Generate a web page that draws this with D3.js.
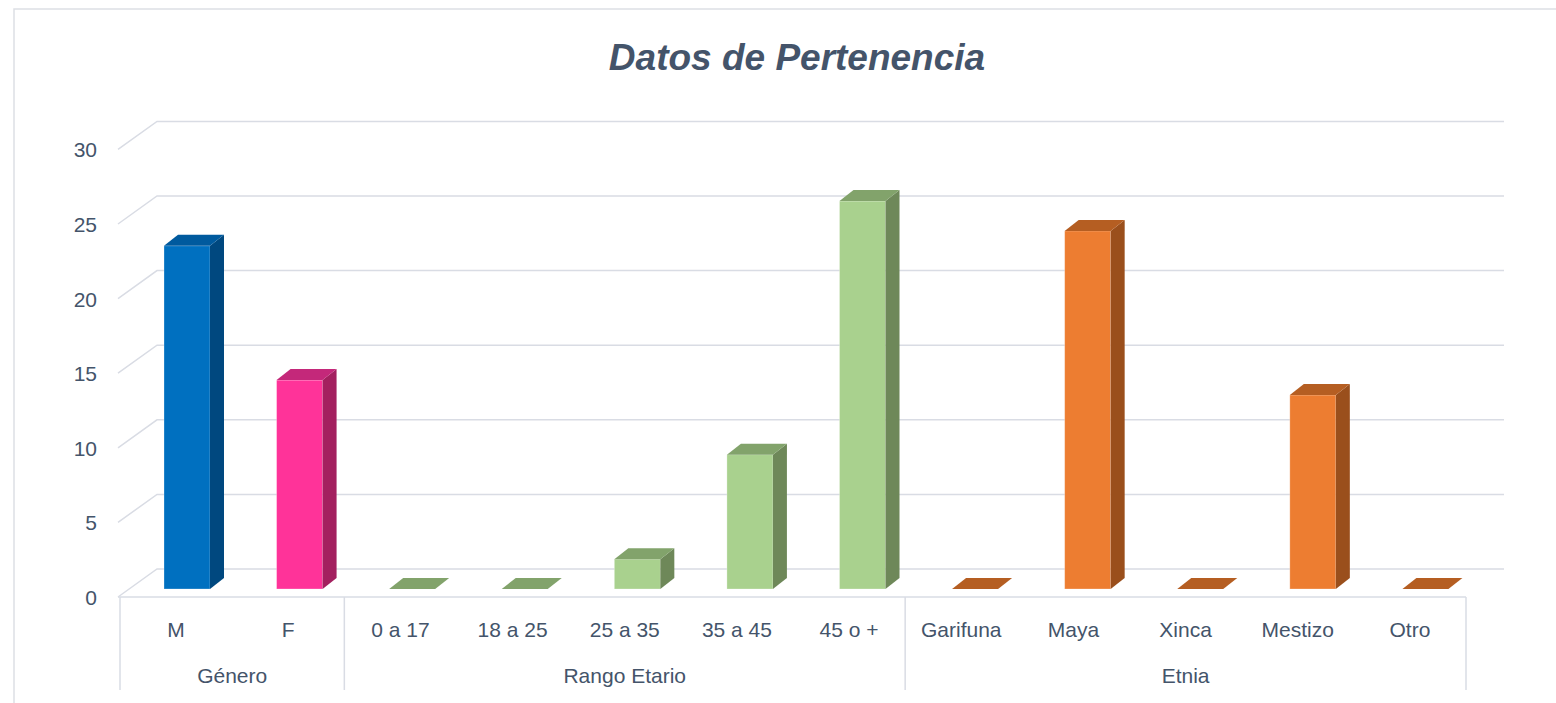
<!DOCTYPE html>
<html>
<head>
<meta charset="utf-8">
<script src="https://cdn.jsdelivr.net/npm/d3@7"></script>
<style>
  html, body { margin: 0; padding: 0; background: #ffffff; }
  svg { display: block; }
</style>
</head>
<body>
<svg id="chart" width="1556" height="703"></svg>
<script>
// ---- data ----
const title = "Datos de Pertenencia";
const generoCats = ["M", "F"];
const generoValues = [23, 14];
const edadCats = ["0 a 17", "18 a 25", "25 a 35", "35 a 45", "45 o +"];
const edadValues = [0, 0, 2, 9, 26];
const etniaCats = ["Garifuna", "Maya", "Xinca", "Mestizo", "Otro"];
const etniaValues = [0, 24, 0, 13, 0];
const groupNames = ["Género", "Rango Etario", "Etnia"];
const yTicks = [0, 5, 10, 15, 20, 25, 30];

// colours per group: [front, top, side]
const groupColors = [
  [["#0070C0", "#005A9E", "#00487F"], ["#FF3399", "#C4287A", "#A3205F"]],
  [["#A9D18E", "#82A36B", "#6E8859"]],
  [["#ED7D31", "#B55E22", "#9A4F1C"]]
];

// ---- build rows ----
const groups = [
  { name: groupNames[0], cats: generoCats, vals: generoValues },
  { name: groupNames[1], cats: edadCats, vals: edadValues },
  { name: groupNames[2], cats: etniaCats, vals: etniaValues }
];
const rows = [];
groups.forEach((g, gi) => {
  g.cats.forEach((c, i) => {
    const pal = groupColors[gi][Math.min(i, groupColors[gi].length - 1)];
    rows.push({ cat: c, value: g.vals[i], group: gi, front: pal[0], top: pal[1], side: pal[2] });
  });
});
const allCats = rows.map(r => r.cat);

// ---- layout ----
const svg = d3.select("#chart");
const textColor = "#44546A";
const gridColor = "#D9DCE4";
const font = "'Liberation Sans', Arial, sans-serif";

const floorX0 = 120, floorX1 = 1466;
const wallDX = 38, wallDY = -28;   // depth of floor (oblique projection)
const barFrontDY = -8;             // bars stand a bit behind the front edge
const barDX = 14, barDY = -11;     // depth of each bar
const barW = 46;

const x = d3.scaleBand().domain(allCats).range([floorX0, floorX1]).padding(0);
const xBar = d3.scaleBand().domain(allCats).range([124, 1475]).padding(0);
const y = d3.scaleLinear().domain([0, 30]).range([597, 149.4]);

// chart frame
svg.append("path")
  .attr("d", `M14,703 L14,9 L1556,9`)
  .attr("fill", "none").attr("stroke", "#DDE0E5").attr("stroke-width", 1.5);

// title
svg.append("text")
  .attr("x", 797).attr("y", 70)
  .attr("text-anchor", "middle")
  .attr("font-family", font).attr("font-size", 37)
  .attr("font-weight", "bold").attr("font-style", "italic")
  .attr("fill", textColor)
  .text(title);

// gridlines: side wall diagonal + back wall
const grid = svg.append("g").attr("fill", "none").attr("stroke", gridColor).attr("stroke-width", 1.5);
yTicks.forEach(t => {
  const yf = y(t), yb = y(t) + wallDY;
  grid.append("path")
    .attr("d", `M${floorX0 - 2},${yf} L${floorX0 - 2 + wallDX + 1},${yb} L${floorX1 + wallDX},${yb}`);
});

// floor front edge and group dividers
const axis = svg.append("g").attr("fill", "none").attr("stroke", gridColor).attr("stroke-width", 1.5);
axis.append("line").attr("x1", floorX0 - 2).attr("x2", floorX1).attr("y1", y(0)).attr("y2", y(0));
let idx = 0;
const boundaries = [x(allCats[0])];
groups.forEach(g => { idx += g.cats.length; boundaries.push(idx < allCats.length ? x(allCats[idx]) : floorX1); });
boundaries.forEach(bx => {
  axis.append("line").attr("x1", bx).attr("x2", bx).attr("y1", y(0)).attr("y2", 690);
});

// y tick labels
svg.append("g").selectAll("text").data(yTicks).join("text")
  .attr("x", 97).attr("y", d => y(d) + 8)
  .attr("text-anchor", "end")
  .attr("font-family", font).attr("font-size", 21)
  .attr("fill", textColor)
  .text(d => d);

// bars (3D)
const bars = svg.append("g");
rows.forEach(r => {
  const x0 = xBar(r.cat) + 40;
  const yb = y(0) + barFrontDY;
  const yt = y(r.value) + barFrontDY;
  const g = bars.append("g");
  if (r.value > 0) {
    g.append("rect")
      .attr("x", x0).attr("y", yt).attr("width", barW).attr("height", yb - yt)
      .attr("fill", r.front).attr("stroke", "rgba(255,255,255,0.35)").attr("stroke-width", 0.8);
    g.append("path")
      .attr("d", `M${x0 + barW},${yt} L${x0 + barW + barDX},${yt + barDY} L${x0 + barW + barDX},${yb + barDY} L${x0 + barW},${yb} Z`)
      .attr("fill", r.side);
  }
  g.append("path")
    .attr("d", `M${x0},${yt} L${x0 + barDX},${yt + barDY} L${x0 + barW + barDX},${yt + barDY} L${x0 + barW},${yt} Z`)
    .attr("fill", r.top);
});

// category labels
svg.append("g").selectAll("text").data(allCats).join("text")
  .attr("x", d => x(d) + x.bandwidth() / 2).attr("y", 637)
  .attr("text-anchor", "middle")
  .attr("font-family", font).attr("font-size", 21)
  .attr("fill", textColor)
  .text(d => d);

// group labels
svg.append("g").selectAll("text").data(groups.map((g, i) => ({ name: g.name, a: boundaries[i], b: boundaries[i + 1] }))).join("text")
  .attr("x", d => (d.a + d.b) / 2).attr("y", 683)
  .attr("text-anchor", "middle")
  .attr("font-family", font).attr("font-size", 21)
  .attr("fill", textColor)
  .text(d => d.name);
</script>
</body>
</html>
